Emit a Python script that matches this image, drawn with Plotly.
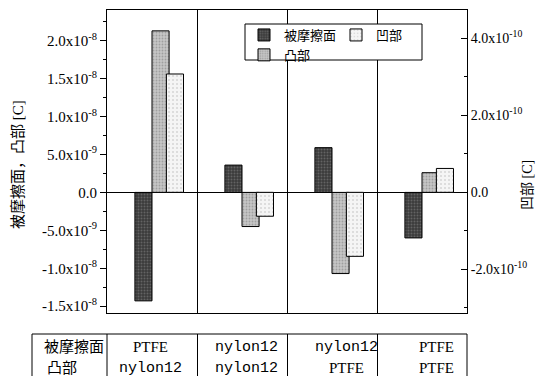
import plotly.graph_objects as go

# ---- data ----
categories = ["PTFE/nylon12", "nylon12/nylon12", "nylon12/PTFE", "PTFE/PTFE"]
surface_row = ["PTFE", "nylon12", "nylon12", "PTFE"]        # 被摩擦面
convex_row = ["nylon12", "nylon12", "PTFE", "PTFE"]         # 凸部
rubbed_surface = [-1.43e-8, 3.6e-9, 5.9e-9, -6.0e-9]        # 被摩擦面 (left axis)
convex = [2.13e-8, -4.5e-9, -1.07e-8, 2.6e-9]               # 凸部 (left axis)
concave = [3.07e-10, -0.62e-10, -1.66e-10, 0.62e-10]        # 凹部 (right axis)

left_tickvals = [-1.5e-8, -1.0e-8, -5.0e-9, 0.0, 5.0e-9, 1.0e-8, 1.5e-8, 2.0e-8]
left_ticktext = ["-1.5x10<sup>-8</sup>", "-1.0x10<sup>-8</sup>", "-5.0x10<sup>-9</sup>", "0.0",
                 "5.0x10<sup>-9</sup>", "1.0x10<sup>-8</sup>", "1.5x10<sup>-8</sup>", "2.0x10<sup>-8</sup>"]
right_tickvals = [-2.0e-10, 0.0, 2.0e-10, 4.0e-10]
right_ticktext = ["-2.0x10<sup>-10</sup>", "0.0", "2.0x10<sup>-10</sup>", "4.0x10<sup>-10</sup>"]

SERIF = "Liberation Serif, Noto Sans CJK JP, serif"
BW = 0.19

fig = go.Figure()
fig.add_trace(go.Bar(
    x=categories, y=rubbed_surface, name="被摩擦面", width=BW, offset=-BW,
    marker=dict(color="#3a3a3a", line=dict(color="black", width=1),
                pattern=dict(shape=".", fgcolor="#8c8c8c", size=3, solidity=0.35)),
    legend="legend", yaxis="y"))
fig.add_trace(go.Bar(
    x=categories, y=convex, name="凸部", width=BW, offset=0.0,
    marker=dict(color="#c6c6c6", line=dict(color="black", width=1),
                pattern=dict(shape=".", fgcolor="#777777", size=3, solidity=0.3)),
    legend="legend", yaxis="y"))
fig.add_trace(go.Bar(
    x=categories, y=concave, name="凹部", width=BW, offset=0.16,
    marker=dict(color="#f5f5f5", line=dict(color="black", width=1),
                pattern=dict(shape=".", fgcolor="#b5b5b5", size=4, solidity=0.2)),
    legend="legend2", yaxis="y2"))

L, R, T, B = 107, 75, 10, 63
W, H = 542, 376
pw, ph = W - L - R, H - T - B


def px(x):
    return (x - L) / pw


def py(y):
    return (H - B - y) / ph


fig.update_layout(
    width=W, height=H,
    margin=dict(l=L, r=R, t=T, b=B, autoexpand=False),
    paper_bgcolor="white", plot_bgcolor="white",
    barmode="overlay",
    font=dict(family=SERIF, size=13, color="black"),
    xaxis=dict(type="category", range=[-0.5, 3.5], showticklabels=False, ticks="",
               showgrid=True, gridcolor="black", gridwidth=1, tickson="boundaries",
               showline=True, linecolor="black", linewidth=1, mirror=True, zeroline=False),
    yaxis=dict(range=[-1.59e-8, 2.405e-8], tickmode="array", tickvals=left_tickvals,
               ticktext=left_ticktext, ticks="outside", ticklen=6, tickcolor="black",
               minor=dict(tickmode="linear", tick0=0, dtick=2.5e-9, ticks="outside",
                          ticklen=3, tickcolor="black", showgrid=False),
               showgrid=False, zeroline=True, zerolinecolor="black", zerolinewidth=1,
               showline=True, linecolor="black", linewidth=1,
               tickfont=dict(family=SERIF, size=15)),
    yaxis2=dict(range=[-3.13e-10, 4.73e-10], overlaying="y", side="right",
                tickmode="array", tickvals=right_tickvals, ticktext=right_ticktext,
                ticks="inside", ticklen=6, tickcolor="black",
                minor=dict(tickmode="linear", tick0=0, dtick=1e-10, ticks="inside",
                           ticklen=3, tickcolor="black", showgrid=False),
                showgrid=False, zeroline=False,
                showline=True, linecolor="black", linewidth=1,
                tickfont=dict(family=SERIF, size=14)),
    legend=dict(x=px(244), y=py(20), xanchor="left", yanchor="top",
                bgcolor="rgba(0,0,0,0)", borderwidth=0, tracegroupgap=0,
                font=dict(family=SERIF, size=13), itemclick=False),
    legend2=dict(x=px(336), y=py(20), xanchor="left", yanchor="top",
                 bgcolor="rgba(0,0,0,0)", borderwidth=0,
                 font=dict(family=SERIF, size=13), itemclick=False),
    showlegend=True,
)

shapes = []
# legend frame
shapes.append(dict(type="rect", xref="paper", yref="paper",
                   x0=px(245), x1=px(422), y0=py(60), y1=py(24),
                   fillcolor="white", line=dict(color="black", width=1), layer="above"))
# table lines
shapes.append(dict(type="line", xref="paper", yref="paper",
                   x0=px(32), x1=px(467), y0=py(334), y1=py(334),
                   line=dict(color="black", width=1)))
for xv in [32, 107, 197.5, 287.5, 377.5, 467]:
    shapes.append(dict(type="line", xref="paper", yref="paper",
                       x0=px(xv), x1=px(xv), y0=py(334), y1=py(380),
                       line=dict(color="black", width=1)))
fig.update_layout(shapes=shapes)

ann = []
ann.append(dict(text="被摩擦面，凸部 [C]", xref="paper", yref="paper", x=px(18), y=py(165),
                textangle=-90, showarrow=False, font=dict(family=SERIF, size=15),
                xanchor="center", yanchor="middle"))
ann.append(dict(text="凹部 [C]", xref="paper", yref="paper", x=px(527), y=py(185),
                textangle=-90, showarrow=False, font=dict(family=SERIF, size=14),
                xanchor="center", yanchor="middle"))
# table text
ann.append(dict(text="被摩擦面", xref="paper", yref="paper", x=px(74), y=py(347),
                xanchor="center", yanchor="middle",
                showarrow=False, font=dict(family=SERIF, size=15)))
ann.append(dict(text="凸部", xref="paper", yref="paper", x=px(62), y=py(368),
                xanchor="center", yanchor="middle",
                showarrow=False, font=dict(family=SERIF, size=15)))
shifts = [-2, 4, 14, 14]


def fam(s):
    return "Liberation Mono, monospace" if "nylon" in s else SERIF


for i, c in enumerate(categories):
    ann.append(dict(text=surface_row[i], xref="x", yref="paper", x=c, y=py(347),
                    xanchor="center", yanchor="middle", xshift=shifts[i], showarrow=False,
                    font=dict(family=fam(surface_row[i]), size=15)))
    ann.append(dict(text=convex_row[i], xref="x", yref="paper", x=c, y=py(368),
                    xanchor="center", yanchor="middle", xshift=shifts[i], showarrow=False,
                    font=dict(family=fam(convex_row[i]), size=15)))
fig.update_layout(annotations=ann)

fig.write_html(
    "out.html",
    config={"displayModeBar": False},
    post_script="document.body.style.margin='0';document.body.style.overflow='hidden';",
)
